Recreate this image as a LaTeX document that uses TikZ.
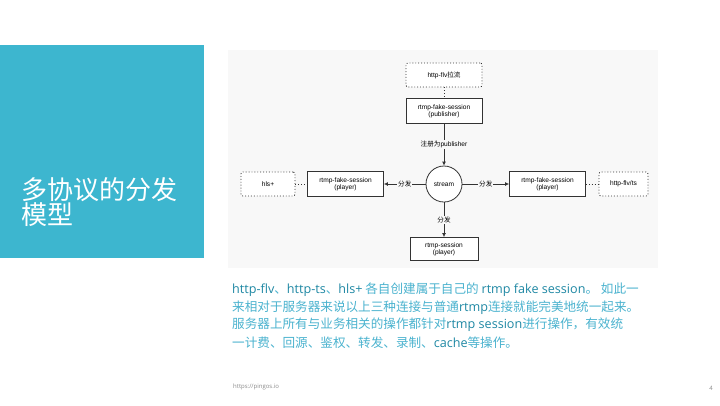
\documentclass[tikz,border=0pt]{standalone}
\usepackage{fontspec}
\setmainfont{Open Sans}
\newfontfamily\cjk{Noto Sans CJK SC}
\newfontfamily\latf{Open Sans}
\newfontfamily\diagf{Liberation Sans}
\usetikzlibrary{arrows.meta}
\definecolor{panel}{HTML}{3DB6CF}
\definecolor{diagbg}{HTML}{F8F8F8}
\definecolor{cjkblue}{HTML}{4BB3CF}
\definecolor{latblue}{HTML}{1F88A4}
\definecolor{footgrey}{HTML}{8A8A8A}
\newcommand{\lt}[1]{{\latf\color{latblue}#1}}
\begin{document}
\begin{tikzpicture}[x=1pt,y=-1pt,
  dfont/.style={font=\fontsize{6.6}{7.4}\selectfont\diagf},
  solidbox/.style={draw=black!80,line width=0.8pt,fill=white,minimum width=76pt,minimum height=25pt,inner sep=1pt,align=center,dfont},
  dotbox/.style={draw=black!80,line width=0.9pt,dotted,rounded corners=2pt,fill=white,minimum height=24pt,inner sep=1pt,align=center,dfont},
  link/.style={draw=black!80,line width=0.8pt},
  arr/.style={link,-{Latex[length=4pt,width=4pt]}},
  dotlink/.style={draw=black!80,line width=0.9pt,dotted},
  lbl/.style={fill=diagbg,inner sep=1pt,font=\fontsize{6.6}{7.4}\selectfont\cjk},
  para/.style={anchor=west,inner sep=0pt,font=\fontsize{12.6}{14}\selectfont\cjk,text=cjkblue}
]
\useasboundingbox (0,0) rectangle (720,405);
\fill[white] (0,0) rectangle (720,405);
% left panel
\fill[panel] (0,45) rectangle (204,258);
\node[anchor=north west,inner sep=0pt,align=left,text=white,font=\fontsize{26}{25.5}\selectfont\cjk] (title) at (21,177) {多协议的分发\\模型};
% diagram background
\fill[diagbg] (228,50) rectangle (658,268);
% nodes
\node[dotbox,minimum width=76pt] (pull) at (444,75) {http-flv\cjk 拉流};
\node[solidbox] (pub) at (444,111) {rtmp-fake-session\\(publisher)};
\node[circle,draw=black!80,line width=0.8pt,fill=white,minimum size=36pt,inner sep=0pt,dfont] (stream) at (444,184) {stream};
\node[solidbox] (lp) at (345.5,184) {rtmp-fake-session\\(player)};
\node[solidbox] (rp) at (547.5,184) {rtmp-fake-session\\(player)};
\node[solidbox,minimum width=68pt,minimum height=23pt] (bp) at (444,249) {rtmp-session\\(player)};
\node[dotbox,minimum width=54pt] (hls) at (268,184) {hls+};
\node[dotbox,minimum width=49pt] (flvts) at (623.5,184) {http-flv/ts};
% connectors
\draw[dotlink] (pull) -- (pub);
\draw[arr] (pub) -- node[lbl]{注册为\diagf publisher} (stream);
\draw[arr] (stream) -- node[lbl]{分发} (lp);
\draw[arr] (stream) -- node[lbl]{分发} (rp);
\draw[arr] (stream) -- node[lbl]{分发} (bp);
\draw[dotlink] (hls) -- (lp);
\draw[dotlink] (rp) -- (flvts);
% paragraph
\node[para] (l1) at (232,290) {\lt{http-flv}、\lt{http-ts}、\lt{hls+} 各自创建属于自己的 \lt{rtmp fake session}。 如此一};
\node[para] (l2) at (232,307.5) {来相对于服务器来说以上三种连接与普通\lt{rtmp}连接就能完美地统一起来。};
\node[para] (l3) at (232,325) {服务器上所有与业务相关的操作都针对\lt{rtmp session}进行操作，有效统};
\node[para] (l4) at (232,342.5) {一计费、回源、鉴权、转发、录制、\lt{cache}等操作。};
% footer
\node[anchor=west,inner sep=0pt,text=footgrey,font=\fontsize{6}{7}\selectfont\latf] (url) at (233,387) {https://pingos.io};
\node[inner sep=0pt,text=footgrey,font=\fontsize{6}{7}\selectfont\latf] (pg) at (711,388) {4};
\end{tikzpicture}
\end{document}
